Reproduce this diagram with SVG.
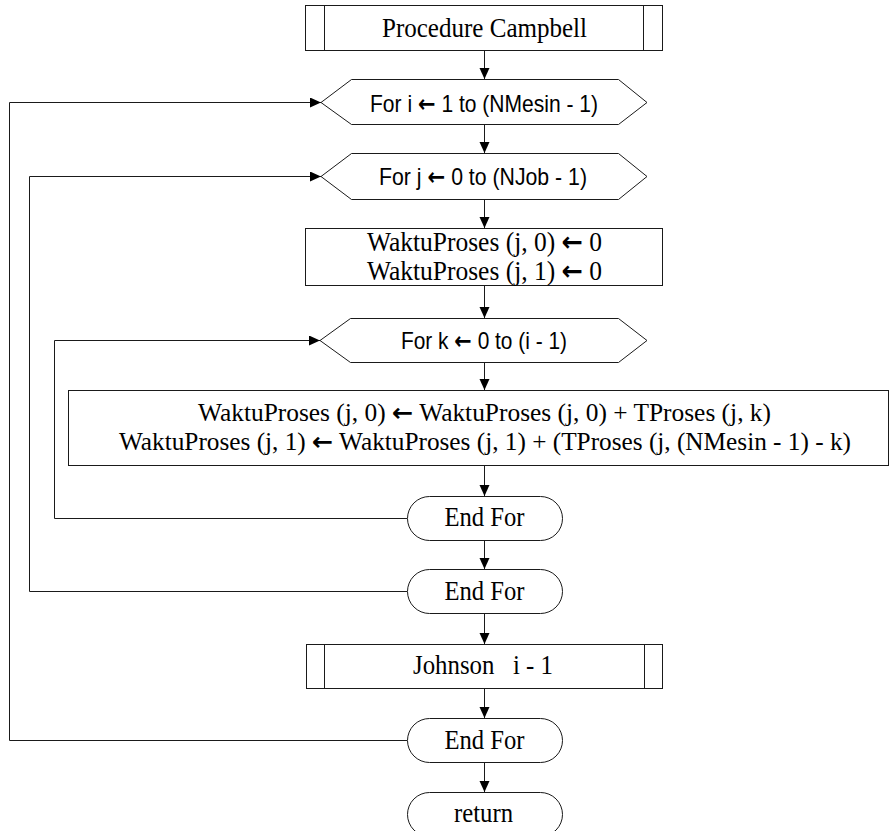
<svg xmlns="http://www.w3.org/2000/svg" width="890" height="831" viewBox="0 0 890 831">
<style>
.s{fill:#fff;stroke:#1a1a1a;stroke-width:1}
.l{fill:none;stroke:#1a1a1a;stroke-width:1}
.t{font-family:"Liberation Serif","Times New Roman",serif;font-size:27px;fill:#000;text-anchor:middle;white-space:pre}
.b{font-size:25px}
.a{font-family:"Liberation Sans",Arial,sans-serif;font-size:24px;fill:#000;text-anchor:middle}
.r{font-family:"DejaVu Sans",sans-serif;font-weight:bold}
</style>
<defs>
<marker id="ah" markerUnits="userSpaceOnUse" markerWidth="12" markerHeight="12" refX="11" refY="5" orient="auto">
<path d="M0,0 L11,5 L0,10 z" fill="#000"/>
</marker>
</defs>
<rect width="890" height="831" fill="#fff"/>
<g id="connectors">
<line class="l" x1="484.5" y1="50" x2="484.5" y2="79" marker-end="url(#ah)"/>
<line class="l" x1="484.5" y1="124" x2="484.5" y2="153" marker-end="url(#ah)"/>
<line class="l" x1="484.5" y1="199" x2="484.5" y2="228" marker-end="url(#ah)"/>
<line class="l" x1="484.5" y1="286" x2="484.5" y2="318" marker-end="url(#ah)"/>
<line class="l" x1="484.5" y1="362" x2="484.5" y2="390" marker-end="url(#ah)"/>
<line class="l" x1="484.5" y1="466" x2="484.5" y2="496" marker-end="url(#ah)"/>
<line class="l" x1="484.5" y1="540" x2="484.5" y2="569" marker-end="url(#ah)"/>
<line class="l" x1="484.5" y1="614" x2="484.5" y2="644" marker-end="url(#ah)"/>
<line class="l" x1="484.5" y1="689" x2="484.5" y2="718" marker-end="url(#ah)"/>
<line class="l" x1="484.5" y1="763" x2="484.5" y2="792" marker-end="url(#ah)"/>
<polyline class="l" points="407,518.5 54.5,518.5 54.5,340.5 320,340.5" marker-end="url(#ah)"/>
<polyline class="l" points="407,591.5 29.5,591.5 29.5,176.5 321,176.5" marker-end="url(#ah)"/>
<polyline class="l" points="407,740.5 9.5,740.5 9.5,102.5 321,102.5" marker-end="url(#ah)"/>
</g>
<g id="procedure-campbell">
<rect class="s" x="305.5" y="5.5" width="357" height="45"/>
<line class="l" x1="324.5" y1="5.5" x2="324.5" y2="50.5"/>
<line class="l" x1="643.5" y1="5.5" x2="643.5" y2="50.5"/>
<text class="t" x="484.5" y="36.7" textLength="205" lengthAdjust="spacingAndGlyphs">Procedure Campbell</text>
</g>
<g id="for-i">
<polygon class="s" points="321,102.5 351.5,79.5 618.5,79.5 647,102.5 618.5,124.5 351.5,124.5"/>
<text class="a" x="484" y="111.5" textLength="228" lengthAdjust="spacingAndGlyphs">For i <tspan class="r">←</tspan> 1 to (NMesin - 1)</text>
</g>
<g id="for-j">
<polygon class="s" points="321,176.5 351.5,153.5 618.5,153.5 647,176.5 618.5,199.5 351.5,199.5"/>
<text class="a" x="483" y="185" textLength="208" lengthAdjust="spacingAndGlyphs">For j <tspan class="r">←</tspan> 0 to (NJob - 1)</text>
</g>
<g id="init-waktu">
<rect class="s" x="305.5" y="228.5" width="357" height="57"/>
<text class="t" x="484.5" y="250.7" textLength="235" lengthAdjust="spacingAndGlyphs">WaktuProses (j, 0) <tspan class="r">←</tspan> 0</text>
<text class="t" x="484.5" y="280" textLength="235" lengthAdjust="spacingAndGlyphs">WaktuProses (j, 1) <tspan class="r">←</tspan> 0</text>
</g>
<g id="for-k">
<polygon class="s" points="320,340.5 350.5,318.5 618.5,318.5 647,340.5 618.5,362.5 350.5,362.5"/>
<text class="a" x="484" y="348.5" textLength="166" lengthAdjust="spacingAndGlyphs">For k <tspan class="r">←</tspan> 0 to (i - 1)</text>
</g>
<g id="update-waktu">
<rect class="s" x="68.5" y="390.5" width="820" height="75"/>
<text class="t b" x="484.5" y="420.7" textLength="573" lengthAdjust="spacingAndGlyphs">WaktuProses (j, 0) <tspan class="r">←</tspan> WaktuProses (j, 0) + TProses (j, k)</text>
<text class="t b" x="485" y="449.5" textLength="732" lengthAdjust="spacingAndGlyphs">WaktuProses (j, 1) <tspan class="r">←</tspan> WaktuProses (j, 1) + (TProses (j, (NMesin - 1) - k)</text>
</g>
<g id="end-for-k">
<rect class="s" x="407.5" y="496.5" width="155" height="44" rx="22" ry="22"/>
<text class="t" x="484.5" y="525.5" textLength="80" lengthAdjust="spacingAndGlyphs">End For</text>
</g>
<g id="end-for-j">
<rect class="s" x="407.5" y="569.5" width="155" height="44" rx="22" ry="22"/>
<text class="t" x="484.5" y="600" textLength="80" lengthAdjust="spacingAndGlyphs">End For</text>
</g>
<g id="johnson">
<rect class="s" x="306.5" y="644.5" width="356" height="44"/>
<line class="l" x1="324.5" y1="644.5" x2="324.5" y2="688.5"/>
<line class="l" x1="644.5" y1="644.5" x2="644.5" y2="688.5"/>
<text class="t" x="483" y="674.3" textLength="140" lengthAdjust="spacingAndGlyphs">Johnson   i - 1</text>
</g>
<g id="end-for-i">
<rect class="s" x="407.5" y="718.5" width="155" height="44" rx="22" ry="22"/>
<text class="t" x="484.5" y="748.5" textLength="80" lengthAdjust="spacingAndGlyphs">End For</text>
</g>
<g id="return">
<rect class="s" x="407.5" y="792.5" width="155" height="44" rx="22" ry="22"/>
<text class="t" x="483.5" y="821.7" textLength="59" lengthAdjust="spacingAndGlyphs">return</text>
</g>
</svg>
